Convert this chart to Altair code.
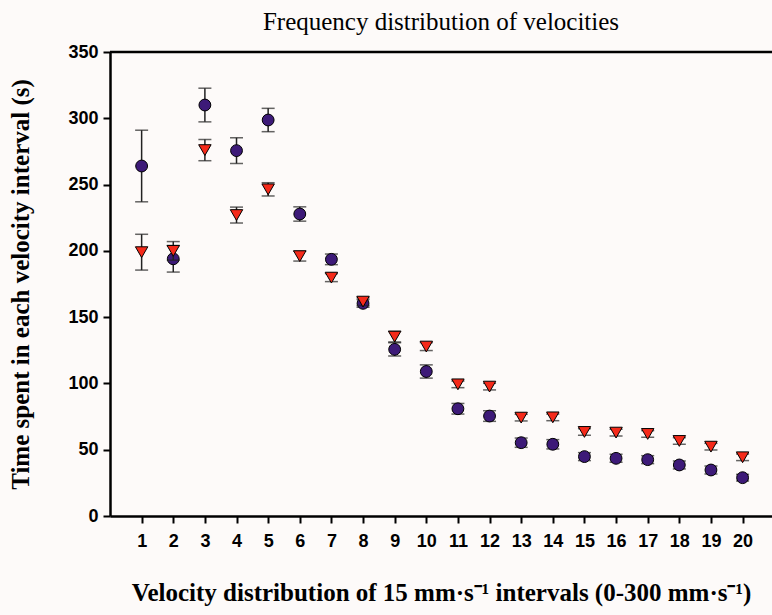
import altair as alt
import pandas as pd

intervals = list(range(1, 21))
circle_vals = [264, 194, 310, 275.6, 298.7, 227.8, 193.6, 160.4, 125.7, 109.0,
               80.9, 75.4, 55.3, 54.1, 44.8, 43.5, 42.5, 38.5, 34.7, 28.9]
circle_err = [27, 10, 12.7, 9.7, 8.8, 5.4, 4, 3, 5, 5,
              4, 4, 3.5, 3.5, 3, 3, 3, 3, 3, 2.5]
tri_vals = [199, 200, 276, 227, 246.4, 196, 179.8, 161.7, 135.3, 127.8,
            99.3, 97.6, 74.2, 74.4, 63.4, 62.9, 61.9, 56.6, 52.3, 44.3]
tri_err = [13.5, 7, 8, 6, 5, 3.7, 3, 3, 4, 3,
           2.5, 2.5, 2.5, 2.5, 2.5, 2.5, 2.5, 2.5, 2.5, 2.5]
y_ticks = [0, 50, 100, 150, 200, 250, 300, 350]

circ = pd.DataFrame({"x": intervals, "v": circle_vals, "e": circle_err})
circ["lo"] = circ["v"] - circ["e"]
circ["hi"] = circ["v"] + circ["e"]
tri = pd.DataFrame({"x": intervals, "v": tri_vals, "e": tri_err})
tri["lo"] = tri["v"] - tri["e"]
tri["hi"] = tri["v"] + tri["e"]

XMAX = 20.93
xs = alt.Scale(domain=[0, XMAX], nice=False, zero=False)
ys = alt.Scale(domain=[0, 350], nice=False)

x_axis = alt.Axis(values=intervals, title="Velocity distribution of 15 mm·s⁻¹ intervals (0-300 mm·s⁻¹)",
                  labelFont="Liberation Sans", labelFontWeight="bold", labelFontSize=18,
                  labelOverlap=False, labelPadding=9, tickSize=7, tickWidth=2, domainWidth=2.5,
                  domainColor="black", tickColor="black", labelColor="black",
                  titleFont="Liberation Serif", titleFontWeight="bold", titleFontSize=25,
                  titlePadding=30, titleColor="black", grid=False)
y_axis = alt.Axis(values=y_ticks, title="Time spent in each velocity interval (s)",
                  labelFont="Liberation Sans", labelFontWeight="bold", labelFontSize=18,
                  labelOverlap=False, labelPadding=5, tickSize=7, tickWidth=2, domainWidth=2.5,
                  domainColor="black", tickColor="black", labelColor="black",
                  titleFont="Liberation Serif", titleFontWeight="bold", titleFontSize=25,
                  titlePadding=34, titleColor="black", grid=False)

ERR = "#222222"


def X(field):
    return alt.X(field, scale=xs, axis=x_axis)


def Y(field):
    return alt.Y(field, scale=ys, axis=y_axis)


def errors(df):
    rule = alt.Chart(df).mark_rule(color=ERR, strokeWidth=1.5).encode(
        x=X("x:Q"), y=Y("lo:Q"), y2="hi:Q")
    cap_lo = alt.Chart(df).mark_tick(color=ERR, size=13, thickness=1.5, orient="horizontal").encode(
        x=X("x:Q"), y=Y("lo:Q"))
    cap_hi = alt.Chart(df).mark_tick(color=ERR, size=13, thickness=1.5, orient="horizontal").encode(
        x=X("x:Q"), y=Y("hi:Q"))
    return rule + cap_lo + cap_hi


circle_pts = alt.Chart(circ).mark_point(shape="circle", filled=True, fill="#3d1a78", stroke="black",
                                        strokeWidth=1, opacity=1, size=140).encode(
    x=X("x:Q"), y=Y("v:Q"))
tri_pts = alt.Chart(tri).mark_point(shape="triangle-down", filled=True, fill="#f52a1a", stroke="black",
                                    strokeWidth=1, opacity=1, size=155).encode(
    x=X("x:Q"), y=Y("v:Q"))

top_line = alt.Chart(pd.DataFrame({"a": [0], "b": [XMAX], "y": [350]})).mark_rule(
    color="black", strokeWidth=2.5).encode(
    x=X("a:Q"), x2="b:Q", y=Y("y:Q"))

chart = alt.layer(
    top_line, errors(circ), circle_pts, errors(tri), tri_pts
).properties(
    width=662, height=464,
    title=alt.Title("Frequency distribution of velocities", font="Liberation Serif",
                    fontSize=25, fontWeight="normal", color="black", offset=8),
    autosize=alt.AutoSizeParams(type="none"),
    padding={"left": 110, "top": 52, "right": 0, "bottom": 99},
    background="#fdfaf9",
).configure_view(stroke=None)

chart.save("out.html", embed_options={"renderer": "svg", "actions": False})
